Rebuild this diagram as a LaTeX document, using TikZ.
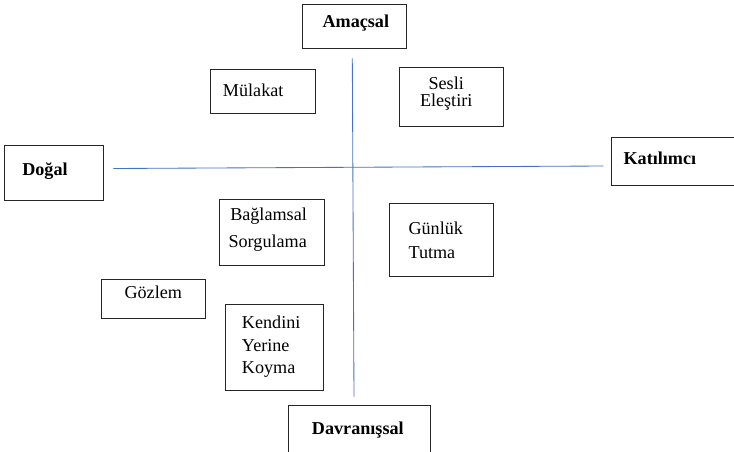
\documentclass[tikz,border=0pt]{standalone}
\usepackage{fontspec}
\setmainfont{Liberation Serif}
\usepackage{tikz}
\definecolor{axisblue}{RGB}{68,114,196}
\tikzset{
	box/.style={draw=black!85,line width=0.7pt,minimum width=2.6cm,inner sep=0pt},
	lbl/.style={anchor=base west,inner sep=0pt,font=\fontsize{12.9}{15.4}\selectfont},
	blbl/.style={lbl,font=\fontsize{12.9}{15.4}\selectfont\bfseries},
	axis/.style={draw=axisblue,line width=0.6pt}
}

\begin{document}
\begin{tikzpicture}
		\useasboundingbox (0,0) rectangle (18.35,11.275);
		\clip (0,0) rectangle (18.35,11.275);
		%axes
		\coordinate (hl) at (2.8325,7.0625);
		\coordinate (hr) at (15.0925,7.125);
		\coordinate (vt) at (8.8075,9.8175);
		\coordinate (vb) at (8.85,1.3575);
		\draw[axis] (hl) -- (hr);
		\draw[axis] (vt) -- (vb);
		%%% ends
		\node[box,minimum width=2.608cm,minimum height=1.083cm] (amacsal) at (8.854,10.609) {};
		\node[box,minimum width=2.465cm,minimum height=1.365cm] (dogal) at (1.35,6.95) {};
		\node[box,minimum width=3.35cm,minimum height=1.2075cm] (katilimci) at (16.95,7.229) {};
		\node[box,minimum width=3.56cm,minimum height=1.5cm] (davranissal) at (8.9875,0.4) {};
		\node[blbl] (amacsalT) at (8.058,10.5925) {Amaçsal};
		\node[blbl] (dogalT) at (0.55,6.9) {Doğal};
		\node[blbl] (katilimciT) at (15.583,7.1675) {Katılımcı};
		\node[blbl] (davranissalT) at (7.7925,0.4175) {Davranışsal};
		%%% methods
		\node[box,minimum width=2.608cm,minimum height=1.083cm] (mulakat) at (6.571,8.984) {};
		\node[box,minimum width=2.61cm,minimum height=1.475cm] (sesli) at (11.2875,8.845) {};
		\node[box,minimum width=2.618cm,minimum height=1.643cm] (baglamsal) at (6.791,5.471) {};
		\node[box,minimum width=2.6cm,minimum height=1.835cm] (gunluk) at (11.025,5.275) {};
		\node[box,minimum width=2.6cm,minimum height=0.968cm] (gozlem) at (3.8325,3.809) {};
		\node[box,minimum width=2.45cm,minimum height=2.143cm] (kendini) at (6.8675,2.596) {};
		\node[lbl] (mulakatT) at (5.5675,8.8575) {Mülakat};
		\node[lbl,anchor=base] (sesliT) at (11.155,9.0425) {Sesli};
		\node[lbl,anchor=base] (elestiriT) at (11.155,8.625) {Eleştiri};
		\node[lbl] (baglamsalT) at (5.75,5.7575) {Bağlamsal};
		\node[lbl] (sorgulamaT) at (5.7075,5.0825) {Sorgulama};
		\node[lbl] (gunlukT) at (10.2075,5.4175) {Günlük};
		\node[lbl] (tutmaT) at (10.2075,4.8175) {Tutma};
		\node[lbl] (gozlemT) at (3.1075,3.8175) {Gözlem};
		\node[lbl] (kendiniT) at (6.0425,3.0675) {Kendini};
		\node[lbl] (yerineT) at (6.0425,2.5) {Yerine};
		\node[lbl] (koymaT) at (6.0425,1.9425) {Koyma};
	\end{tikzpicture}
\end{document}
